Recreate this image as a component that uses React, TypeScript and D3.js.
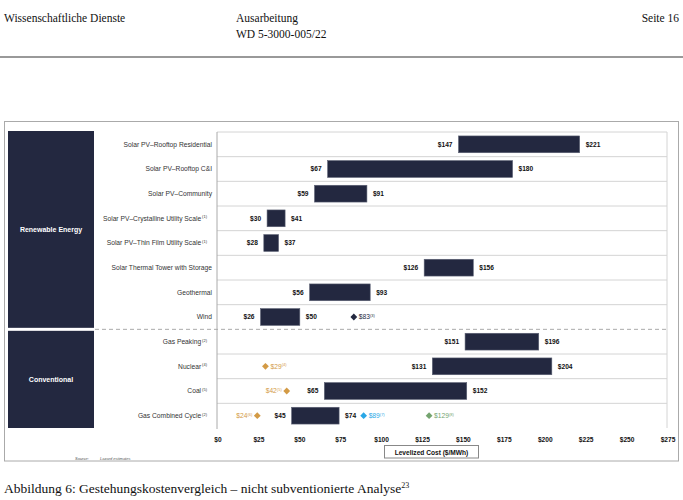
import React from "react";
import * as d3 from "d3";

const categories = [
  "Solar PV–Rooftop Residential",
  "Solar PV–Rooftop C&I",
  "Solar PV–Community",
  "Solar PV–Crystalline Utility Scale",
  "Solar PV–Thin Film Utility Scale",
  "Solar Thermal Tower with Storage",
  "Geothermal",
  "Wind",
  "Gas Peaking",
  "Nuclear",
  "Coal",
  "Gas Combined Cycle",
];
const categoryNotes = ["", "", "", "(1)", "(1)", "", "", "", "(2)", "(4)", "(5)", "(2)"];
const lows = [147, 67, 59, 30, 28, 126, 56, 26, 151, 131, 65, 45];
const highs = [221, 180, 91, 41, 37, 156, 93, 50, 196, 204, 152, 74];

const groupNames = ["Renewable Energy", "Conventional"];

const markerCategory = ["Wind", "Nuclear", "Coal", "Gas Combined Cycle", "Gas Combined Cycle", "Gas Combined Cycle"];
const markerValues = [83, 29, 42, 24, 89, 129];
const markerNotes = ["(3)", "(4)", "(5)", "(6)", "(7)", "(8)"];
const markerColors = ["#232840", "#d39a45", "#d39a45", "#d39a45", "#2aa7e6", "#74a46f"];
const markerLabelLeft = [false, false, true, true, false, false];

const ticks = [0, 25, 50, 75, 100, 125, 150, 175, 200, 225, 250, 275];

const NAVY = "#232840";
const SANS = "'Liberation Sans', Arial, sans-serif";
const SERIF = "'Liberation Serif', 'Times New Roman', serif";

export default function App() {
  const x = d3.scaleLinear().domain([0, 275]).range([218, 668]);
  const y = d3.scaleBand<string>().domain(categories).range([132, 428]).paddingInner(0.32).paddingOuter(0.16);
  const rowH = 296 / categories.length;
  const rowTop = (i: number) => 132 + i * rowH;
  const plotL = 217;
  const plotR = 667;
  const dashY = rowTop(8);

  return (
    <svg width={683} height={500} style={{ position: "absolute", left: 0, top: 0, background: "#fff" }}>
      {/* header */}
      <text x={4} y={22} fontFamily={SERIF} fontSize={11.5} fill="#111">Wissenschaftliche Dienste</text>
      <text x={236} y={22} fontFamily={SERIF} fontSize={11.5} fill="#111">Ausarbeitung</text>
      <text x={236} y={38} fontFamily={SERIF} fontSize={11.5} fill="#111">WD 5-3000-005/22</text>
      <text x={679} y={22} textAnchor="end" fontFamily={SERIF} fontSize={11.5} fill="#111">Seite 16</text>
      <line x1={0} x2={683} y1={57} y2={57} stroke="#777" strokeWidth={1.3} />

      {/* outer frame */}
      <rect x={4.5} y={121.5} width={674} height={339.5} fill="none" stroke="#aaa" strokeWidth={1} />

      {/* group panels */}
      {groupNames.map((g, i) => {
        const top = i === 0 ? 131 : dashY + 1.5;
        const bottom = i === 0 ? dashY - 1.5 : 428;
        return (
          <g key={g}>
            <rect x={8} y={top} width={86} height={bottom - top} fill={NAVY} />
            <text x={51} y={(top + bottom) / 2 + 2.5} textAnchor="middle" fontFamily={SANS} fontWeight="bold" fontSize={7} fill="#fff">{g}</text>
          </g>
        );
      })}

      {/* grid rows */}
      <line x1={plotL} x2={plotR} y1={132} y2={132} stroke="#d4d4d4" strokeWidth={1} />
      {categories.map((c, i) =>
        i > 0 && i !== 8 ? (
          <line key={c} x1={plotL} x2={plotR} y1={rowTop(i)} y2={rowTop(i)} stroke="#d4d4d4" strokeWidth={1} />
        ) : null
      )}
      <line x1={plotR} x2={plotR} y1={132} y2={428} stroke="#d4d4d4" strokeWidth={1} />
      <line x1={95} x2={plotR} y1={dashY} y2={dashY} stroke="#aaa" strokeWidth={1} strokeDasharray="4,3" />
      <line x1={plotL} x2={plotL} y1={132} y2={429} stroke="#aaa" strokeWidth={1} />

      {/* category labels */}
      {categories.map((c, i) => (
        <text key={c} x={categoryNotes[i] ? 207 : 212} y={rowTop(i) + rowH / 2 + 2.4} textAnchor="end" fontFamily={SANS} fontSize={6.7} fill="#333">
          {c}
          {categoryNotes[i] ? (
            <tspan dx={1} dy={-2.5} fontSize={4}>{categoryNotes[i]}</tspan>
          ) : null}
        </text>
      ))}

      {/* bars */}
      {categories.map((c, i) => {
        const cy = rowTop(i) + rowH / 2;
        const h = y.bandwidth();
        return (
          <g key={c}>
            <rect x={x(lows[i])} y={cy - h / 2} width={x(highs[i]) - x(lows[i])} height={h} fill={NAVY} stroke="#5a5f72" strokeWidth={0.6} />
            <text x={x(lows[i]) - 6} y={cy + 2.4} textAnchor="end" fontFamily={SANS} fontWeight="bold" fontSize={6.6} fill="#111">${lows[i]}</text>
            <text x={x(highs[i]) + 6} y={cy + 2.4} fontFamily={SANS} fontWeight="bold" fontSize={6.6} fill="#111">${highs[i]}</text>
          </g>
        );
      })}

      {/* markers */}
      {markerValues.map((v, k) => {
        const i = categories.indexOf(markerCategory[k]);
        const cy = rowTop(i) + rowH / 2;
        const cx = x(v);
        const s = 3.4;
        const col = markerColors[k];
        const left = markerLabelLeft[k];
        return (
          <g key={k}>
            <path d={`M${cx},${cy - s}L${cx + s},${cy}L${cx},${cy + s}L${cx - s},${cy}Z`} fill={col} />
            <text x={left ? cx - 5 : cx + 5} y={cy + 2.4} textAnchor={left ? "end" : "start"} fontFamily={SANS} fontSize={6.7} fill={col}>
              ${v}
              <tspan dy={-2.5} fontSize={4}>{markerNotes[k]}</tspan>
            </text>
          </g>
        );
      })}

      {/* x axis ticks */}
      {ticks.map((t) => (
        <text key={t} x={x(t)} y={442} textAnchor="middle" fontFamily={SANS} fontWeight="bold" fontSize={6.6} fill="#111">${t}</text>
      ))}

      {/* axis title box */}
      <rect x={384.5} y={445.5} width={94} height={12.5} fill="#fff" stroke="#888" strokeWidth={1} />
      <text x={431.5} y={454.5} textAnchor="middle" fontFamily={SANS} fontWeight="bold" fontSize={6.6} fill="#111">Levelized Cost ($/MWh)</text>

      {/* source */}
      <text x={75} y={460} fontFamily={SANS} fontStyle="italic" fontSize={4} fill="#555">Source:</text>
      <text x={100} y={460} fontFamily={SANS} fontStyle="italic" fontSize={4} fill="#555">Lazard estimates</text>

      {/* caption */}
      <text x={4} y={493} fontFamily={SERIF} fontSize={13.5} fill="#111">
        Abbildung 6: Gestehungskostenvergleich – nicht subventionierte Analyse
        <tspan dy={-5.5} fontSize={8}>23</tspan>
      </text>
    </svg>
  );
}
